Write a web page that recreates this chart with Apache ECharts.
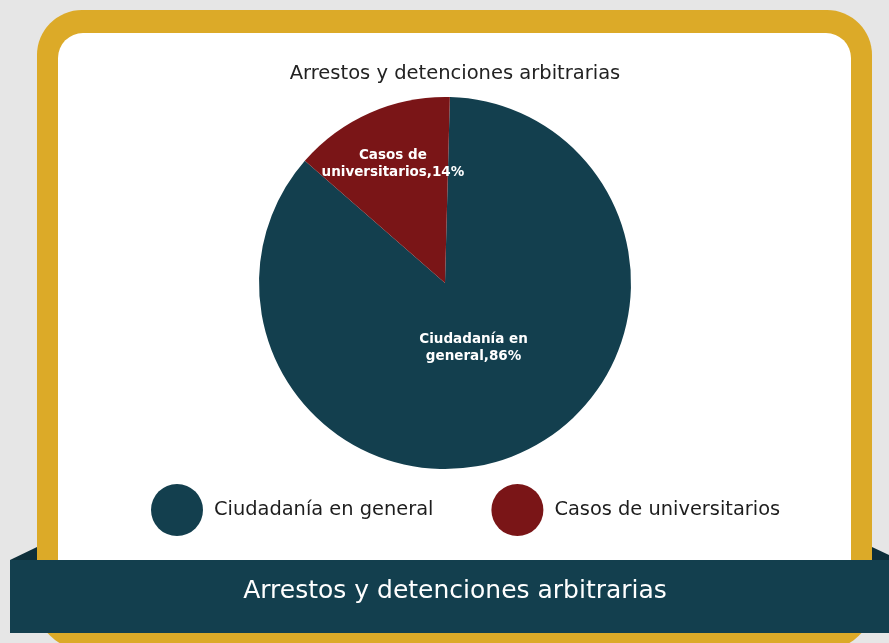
<!DOCTYPE html>
<html>
<head>
<meta charset="utf-8">
<title>Arrestos y detenciones arbitrarias</title>
<script src="https://cdn.jsdelivr.net/npm/echarts@6/dist/echarts.min.js"></script>
<style>
  html, body { margin: 0; padding: 0; background: #e6e6e6; }
  #chart { width: 889px; height: 643px; }
</style>
</head>
<body>
<div id="chart"></div>
<script>
// datos
const categories = ['Ciudadanía en general', 'Casos de universitarios']
const values = [86, 14]
const colors = ['#133f4e', '#7a1517']
const chartTitle = 'Arrestos y detenciones arbitrarias'

const FONT = '"DejaVu Sans", sans-serif'
const center = [445, 283]
// how far each inside label sits from the centre (ratio of the default spot)
const labelPull = [0.74, 1.35]

const chart = echarts.init(document.getElementById('chart'))

let option = {
  backgroundColor: '#e6e6e6',
  color: colors,
  title: {
    text: chartTitle,
    left: 450,
    textAlign: 'center',
    top: 59,
    textStyle: { fontFamily: FONT, fontSize: 19.5, fontWeight: 'normal', color: '#222' }
  },
  legend: {
    left: 146,
    top: 479,
    icon: 'circle',
    itemWidth: 52,
    itemHeight: 52,
    itemGap: 58,
    textStyle: { fontFamily: FONT, fontSize: 19.4, color: '#1d1d1d', padding: [0, 0, 0, 6] },
    data: categories
  },
  graphic: [
    // marco dorado
    { type: 'rect', z: -10, shape: { x: 37, y: 10, width: 835, height: 639, r: 45 }, style: { fill: '#dcaa28' } },
    { type: 'rect', z: -9, shape: { x: 58, y: 33, width: 793, height: 560, r: 25 }, style: { fill: '#ffffff' } },
    // pliegues de la cinta
    { type: 'polygon', z: -8, shape: { points: [[10, 560], [37, 547], [37, 560]] }, style: { fill: '#0e2f3a' } },
    { type: 'polygon', z: -8, shape: { points: [[872, 547], [889, 555], [889, 560], [872, 560]] }, style: { fill: '#0e2f3a' } },
    // cinta inferior
    { type: 'rect', z: -7, shape: { x: 10, y: 560, width: 879, height: 73 }, style: { fill: '#133f4e' } },
    {
      type: 'text', z: -6, x: 455, y: 591,
      style: {
        text: chartTitle, fill: '#ffffff', font: 'normal 25px ' + FONT,
        textAlign: 'center', textVerticalAlign: 'middle'
      }
    }
  ],
  series: [
    {
      type: 'pie',
      center: center,
      radius: 186,
      startAngle: 88.5,
      clockwise: true,
      silent: true,
      itemStyle: { borderWidth: 0 },
      label: {
        show: true,
        position: 'inside',
        formatter: function (p) {
          // corte en el último espacio del nombre
          const i = p.name.lastIndexOf(' ')
          return p.name.slice(0, i) + '\n' + p.name.slice(i + 1) + ',' + p.percent + '%'
        },
        color: '#ffffff',
        fontFamily: FONT,
        fontWeight: 'bold',
        fontSize: 13.5,
        lineHeight: 17
      },
      labelLine: { show: false },
      labelLayout: function (params) {
        const r = params.labelRect
        const cx = r.x + r.width / 2
        const cy = r.y + r.height / 2
        const k = labelPull[params.dataIndex]
        return {
          x: center[0] + (cx - center[0]) * k,
          y: center[1] + (cy - center[1]) * k
        }
      },
      data: categories.map((name, i) => ({ name: name, value: values[i] }))
    }
  ]
}

option && chart.setOption(option)
window.addEventListener('resize', function () {
  chart.resize()
})
</script>
</body>
</html>
